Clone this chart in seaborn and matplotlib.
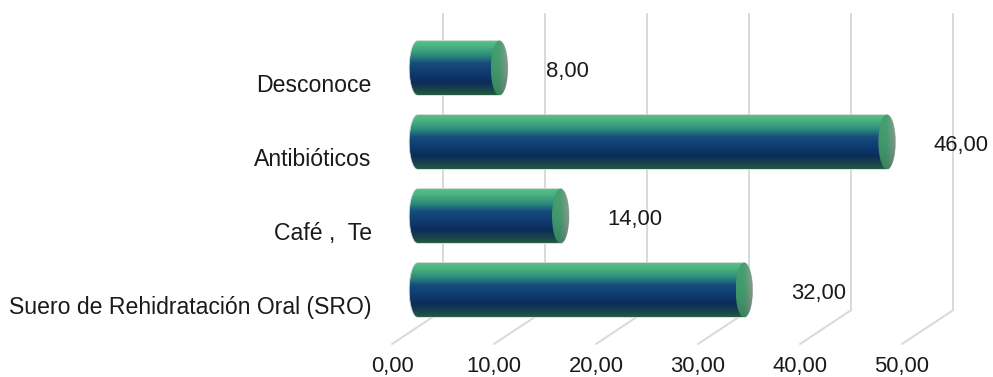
import numpy as np
import pandas as pd
import matplotlib
matplotlib.use("Agg")
import matplotlib.pyplot as plt
import matplotlib.transforms as mtransforms
from matplotlib.path import Path
from matplotlib.patches import PathPatch, Ellipse
from matplotlib.colors import LinearSegmentedColormap, to_rgb
import seaborn as sns

# Datos
categorias = ["Desconoce", "Antibióticos", "Café ,  Te", "Suero de Rehidratación Oral (SRO)"]
valores = [8.0, 46.0, 14.0, 32.0]
ticks = [0, 10, 20, 30, 40, 50]


def fmt(v):
    return f"{v:.2f}".replace(".", ",")


sns.set_theme(style="white")
plt.rcParams["font.family"] = ["Liberation Sans", "DejaVu Sans"]

W, H = 993, 377
PX_PER_UNIT = 10.2
X_MIN, X_MAX = -2, 50
ZERO_PX = 417.7
fig = plt.figure(figsize=(W / 100, H / 100), dpi=100)
ax = fig.add_axes([(ZERO_PX + X_MIN * PX_PER_UNIT) / W, 50 / H,
                   (X_MAX - X_MIN) * PX_PER_UNIT / W, 297 / H])

df = pd.DataFrame({"categoria": categorias, "valor": valores})
sns.barplot(data=df, x="valor", y="categoria", orient="h", width=0.74,
            color="#0f3c73", ax=ax)
ax.set_xlim(X_MIN, X_MAX)
ax.set_ylim(3.5, -0.514)
ax.axis("off")

# pseudo-3D depth: half depth of the plot box in pixels
DX, DY = 25.7, 17.0


def shifted(dx, dy):
    return mtransforms.offset_copy(ax.transData, fig=fig, x=dx, y=dy, units="dots")


back = shifted(DX, DY)
front = shifted(-DX, -DY)
inv = ax.transData.inverted()

p0 = ax.transData.transform((0, 0))
p1 = ax.transData.transform((1, 1))
sx = p1[0] - p0[0]          # pixels per x unit

grid_color = "#d9d9d9"
text_color = "#1a1a1a"
y_floor, y_top = ax.get_ylim()

for t in ticks:
    # back wall line
    ax.plot([t, t], [y_floor, y_top], transform=back, color=grid_color,
            lw=1.4, clip_on=False, zorder=1, solid_capstyle="butt")
    # floor line, front to back
    a = inv.transform(front.transform((t, y_floor)))
    b = inv.transform(back.transform((t, y_floor)))
    ax.plot([a[0], b[0]], [a[1], b[1]], color=grid_color, lw=1.4,
            clip_on=False, zorder=1)
    ax.text(t, y_floor, fmt(t), transform=shifted(-DX, -DY - 28),
            ha="center", va="baseline", fontsize=15.8, color=text_color)

# cylinder shading
body_cmap = LinearSegmentedColormap.from_list("cyl", [
    (0.00, "#5ac28c"),
    (0.12, "#49b27e"),
    (0.28, "#2c8a7a"),
    (0.42, "#164d7c"),
    (0.60, "#0f3b70"),
    (0.76, "#0b2d5a"),
    (0.88, "#183f4c"),
    (1.00, "#245a40"),
])
body_img = body_cmap(np.linspace(0, 1, 256))[:, None, :3]

cap_left = np.array(to_rgb("#3f9e6c"))
cap_mid = np.array(to_rgb("#4a9f74"))
cap_right = np.array(to_rgb("#8e9c92"))
u = np.linspace(0, 1, 64)
row = np.where(u[:, None] < 0.5,
               cap_left + (cap_mid - cap_left) * (u[:, None] / 0.5),
               cap_mid + (cap_right - cap_mid) * ((u[:, None] - 0.5) / 0.5))
vshade = 1.0 - 0.18 * np.linspace(0, 1, 128) ** 2
cap_img = np.clip(row[None, :, :] * vshade[:, None, None], 0, 1)

rx = 8.5 / sx
th = np.linspace(0, np.pi, 60)

for patch, v in zip(ax.patches, valores):
    y0 = patch.get_y()
    h = patch.get_height()
    x0 = patch.get_x()
    x1 = x0 + patch.get_width()
    yc = y0 + h / 2
    patch.set_visible(False)

    left = np.column_stack([x0 - rx * np.sin(th), y0 + h * (1 - np.cos(th)) / 2])
    right = np.column_stack([x1 + rx * np.sin(th), y0 + h - h * (1 - np.cos(th)) / 2])
    verts = np.vstack([left, right, left[:1]])
    codes = [Path.MOVETO] + [Path.LINETO] * (len(verts) - 2) + [Path.CLOSEPOLY]
    body = PathPatch(Path(verts, codes), facecolor="none", edgecolor="#d3dbd5",
                     lw=0.6, zorder=4, clip_on=False)
    ax.add_patch(body)
    im = ax.imshow(body_img, extent=(x0 - rx, x1 + rx, y0 + h, y0), origin="upper",
                   aspect="auto", interpolation="bilinear", zorder=3)
    im.set_clip_path(body)

    cap = Ellipse((x1, yc), 2 * rx, h, facecolor="none", edgecolor="none", zorder=5)
    ax.add_patch(cap)
    ci = ax.imshow(cap_img, extent=(x1 - rx, x1 + rx, y0 + h, y0), origin="upper",
                   aspect="auto", interpolation="bilinear", zorder=5)
    ci.set_clip_path(cap)

    # value label at the back plane
    ax.text(x1, yc, fmt(v), transform=shifted(DX + 21, -9), ha="left",
            va="baseline", fontsize=15.8, color=text_color, clip_on=False)

# category labels at the front plane
for i, cat in enumerate(categorias):
    ax.text(0, i, cat, transform=shifted(-46, -24), ha="right", va="baseline",
            fontsize=16.6, color=text_color, clip_on=False)

ax.set_xlim(X_MIN, X_MAX)
ax.set_ylim(3.5, -0.514)
fig.savefig("out.png", dpi=100)
